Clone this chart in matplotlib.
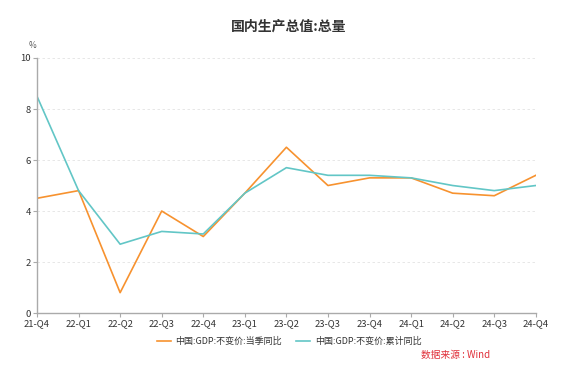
import matplotlib.pyplot as plt

plt.rcParams['font.family'] = ['Noto Sans CJK SC', 'DejaVu Sans']

quarters = ["21-Q4", "22-Q1", "22-Q2", "22-Q3", "22-Q4", "23-Q1", "23-Q2",
            "23-Q3", "23-Q4", "24-Q1", "24-Q2", "24-Q3", "24-Q4"]
gdp_quarter = [4.5, 4.8, 0.8, 4.0, 3.0, 4.7, 6.5, 5.0, 5.3, 5.3, 4.7, 4.6, 5.4]
gdp_cumul = [8.5, 4.8, 2.7, 3.2, 3.1, 4.7, 5.7, 5.4, 5.4, 5.3, 5.0, 4.8, 5.0]

fig = plt.figure(figsize=(5.78, 3.79), dpi=100)
ax = fig.add_axes([0.064, 0.174, 0.863, 0.673])

x = list(range(len(quarters)))
ax.plot(x, gdp_quarter, color='#F7922F', lw=1.2, label='中国:GDP:不变价:当季同比')
ax.plot(x, gdp_cumul, color='#62C6C6', lw=1.2, label='中国:GDP:不变价:累计同比')

ax.set_xlim(0, len(quarters) - 1)
ax.set_ylim(0, 10)
ax.set_xticks(x)
ax.set_xticklabels(quarters)
ax.set_yticks([0, 2, 4, 6, 8, 10])
ax.grid(axis='y', ls=(0, (3, 3)), color='#e3e3e3', lw=0.6)
ax.set_axisbelow(True)
for s in ['top', 'right']:
    ax.spines[s].set_visible(False)
for s in ['left', 'bottom']:
    ax.spines[s].set_color('#aaaaaa')
    ax.spines[s].set_linewidth(1.0)
ax.tick_params(axis='both', colors='#aaaaaa', labelcolor='#333333', labelsize=6.8,
               length=3, width=0.8, pad=1.5)

ax.text(-0.01, 1.04, '%', transform=ax.transAxes, fontsize=6, color='#555555', ha='center')
fig.suptitle('国内生产总值:总量', x=0.5, y=0.948, fontsize=10, fontweight='bold', color='#333333')

fig.legend(loc='center', bbox_to_anchor=(0.5, 0.1), ncol=2, frameon=False, fontsize=6.5,
           handlelength=1.6, handletextpad=0.5, columnspacing=1.5, labelcolor='#333333')
fig.text(0.848, 0.063, '数据来源 : Wind', color='#E0303A', fontsize=7, ha='right', va='center')

fig.savefig('out.png', dpi=100)
